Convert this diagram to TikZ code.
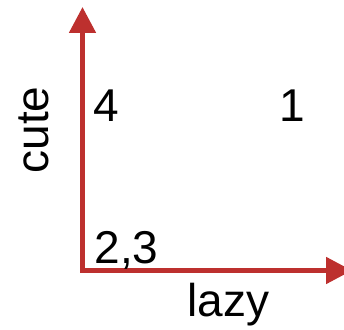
\documentclass[tikz,border=0pt]{standalone}
\usepackage{fontspec}
\setmainfont{Liberation Sans}
\usetikzlibrary{arrows.meta}
\definecolor{axisred}{RGB}{189,48,46}
\begin{document}
\begin{tikzpicture}[x=1pt,y=1pt,
  axisline/.style={draw=axisred, line width=5pt, line join=miter,
    arrows={Triangle[length=26pt,width=26pt,fill=axisred]-Triangle[length=26pt,width=26pt,fill=axisred]}},
  lbl/.style={inner sep=0pt, font=\fontsize{46}{50}\selectfont, anchor=base}]
\useasboundingbox (0,0) rectangle (344,329);
\coordinate (top) at (82.5,322);
\coordinate (orig) at (82.5,58.5);
\coordinate (right) at (352,58.5);
\draw[axisline] (top) -- (orig) -- (right);
\node[lbl] (four) at (106.6,207) {4};
\node[lbl] (one) at (292.7,207) {1};
\node[lbl] (twothree) at (126.5,66) {2,3};
\node[lbl] (lazy) at (228.5,12.3) {lazy};
\node[lbl, rotate=90] (cute) at (48,199) {cute};
\end{tikzpicture}
\end{document}
